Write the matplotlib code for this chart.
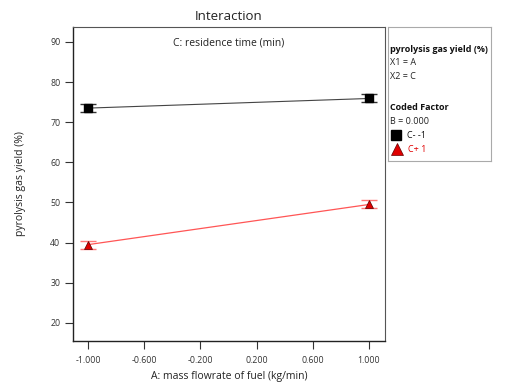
import matplotlib
matplotlib.use("Agg")
import matplotlib.pyplot as plt

plt.rcParams['font.family'] = ['Open Sans', 'DejaVu Sans']

x_levels = [-1.0, 1.0]
low_c = [73.5, 75.9]     # C- -1
high_c = [39.5, 49.5]    # C+ 1
low_err = [1.0, 1.0]
high_err = [1.0, 1.0]
xticks = [-1.0, -0.6, -0.2, 0.2, 0.6, 1.0]
xtick_labels = ["-1.000", "-0.600", "-0.200", "0.200", "0.600", "1.000"]
yticks = [20, 30, 40, 50, 60, 70, 80, 90]

W, H = 507, 389
fig = plt.figure(figsize=(W/100, H/100), dpi=100)
ax = fig.add_axes([73/W, 1-341/H, (385-73)/W, (341-27)/H])

ax.plot(x_levels, low_c, color='#444444', lw=0.8, zorder=2)
ax.errorbar(x_levels, low_c, yerr=low_err, fmt='none', ecolor='#333333',
            elinewidth=1.0, capsize=6, capthick=1.0, zorder=3)
ax.plot(x_levels, low_c, 's', color='black', ms=6, zorder=4)

ax.plot(x_levels, high_c, color='#ff5555', lw=0.9, zorder=2)
ax.errorbar(x_levels, high_c, yerr=high_err, fmt='none', ecolor='#ff7777',
            elinewidth=1.0, capsize=6, capthick=1.0, zorder=3)
ax.plot(x_levels, high_c, '^', color='#e00000', mec='#550000', mew=0.5, ms=5.5, zorder=4)

ax.set_xlim(-1.107, 1.114)
ax.set_ylim(15.5, 93.7)
ax.set_xticks(xticks)
ax.set_xticklabels(xtick_labels)
ax.set_yticks(yticks)
ax.tick_params(axis='both', labelsize=6.3, colors='#333333', direction='out', length=6, width=0.8)
ax.tick_params(axis='x', pad=5)
ax.tick_params(axis='y', pad=3)

for s in ['left', 'bottom']:
    ax.spines[s].set_color('#222222')
    ax.spines[s].set_linewidth(1.0)
for s in ['top', 'right']:
    ax.spines[s].set_color('#555555')
    ax.spines[s].set_linewidth(0.8)

ax.text(0.5, 0.965, "C: residence time (min)", transform=ax.transAxes,
        ha='center', va='top', fontsize=7.5, color='#222222')

fig.text(229/W, 1-17/H, "Interaction", ha='center', va='center', fontsize=9.5, color='#222222')
fig.text(229/W, 1-377/H, "A: mass flowrate of fuel (kg/min)", ha='center', va='center',
         fontsize=7.5, color='#222222')
fig.text(21/W, 1-184/H, "pyrolysis gas yield (%)", ha='center', va='center',
         rotation=90, fontsize=7.5, color='#222222')

# legend panel
lax = fig.add_axes([388/W, 1-161/H, (491-388)/W, (161-27)/H])
lax.set_xlim(0, 103)
lax.set_ylim(134, 0)
lax.set_xticks([])
lax.set_yticks([])
for s in lax.spines.values():
    s.set_color('#aaaaaa')
    s.set_linewidth(0.8)

lax.text(2, 23, "pyrolysis gas yield (%)", fontsize=6.5, fontweight='bold', va='center', color='#111111')
lax.text(2, 36, "X1 = A", fontsize=6.5, va='center', color='#222222')
lax.text(2, 50, "X2 = C", fontsize=6.5, va='center', color='#222222')
lax.text(2, 80, "Coded Factor", fontsize=6.5, fontweight='bold', va='center', color='#111111')
lax.text(2, 94, "B = 0.000", fontsize=6.5, va='center', color='#222222')
lax.plot([8], [108], 's', color='black', ms=7.5)
lax.text(19, 108, "C- -1", fontsize=6.5, va='center', color='#111111')
lax.plot([9], [122], '^', color='#e00000', mec='#660000', mew=0.5, ms=9)
lax.text(20, 122, "C+ 1", fontsize=6.5, va='center', color='#e00000')

fig.savefig("out.png", dpi=100)
